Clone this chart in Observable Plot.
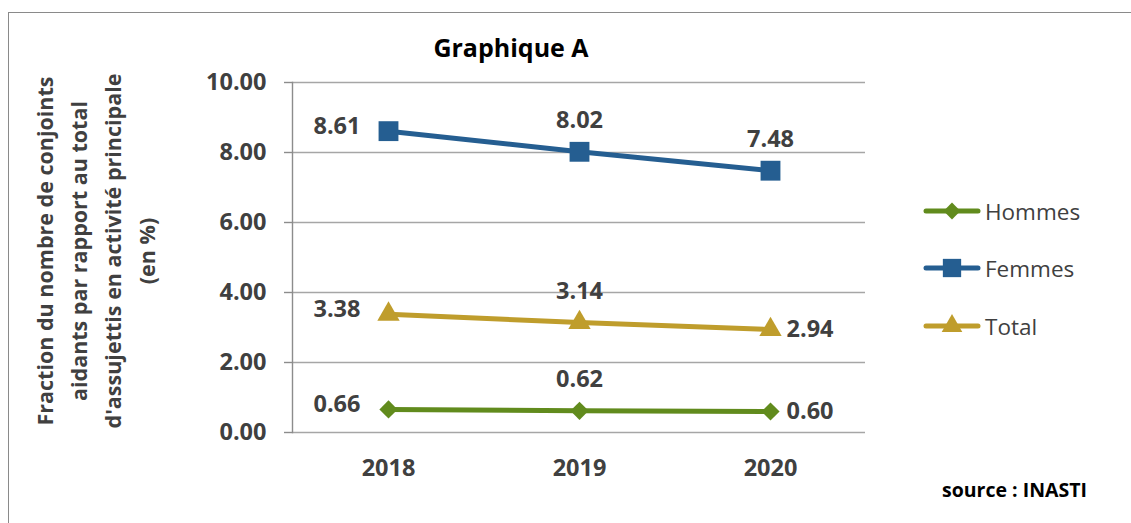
<!DOCTYPE html>
<html><head><meta charset="utf-8">
<script src="https://cdn.jsdelivr.net/npm/d3@7"></script>
<script src="https://cdn.jsdelivr.net/npm/@observablehq/plot@0.6"></script>
<style>
body{margin:0;background:#fff;font-family:"Open Sans",sans-serif;}
#wrap{position:relative;width:1131px;height:523px;overflow:hidden;background:#fff;}
#wrap svg.plot{position:absolute;left:0;top:0;}
#border{position:absolute;left:8px;top:12px;width:1200px;height:600px;border-left:1.5px solid #8a8a8a;border-top:1.5px solid #8a8a8a;box-sizing:border-box;}
#title{position:absolute;left:311px;width:400px;top:30px;text-align:center;font-weight:bold;font-size:25px;color:#000;line-height:34px;}
#ytitle{position:absolute;left:-104px;top:183px;width:400px;height:136px;transform:rotate(-90deg);transform-origin:50% 50%;text-align:center;font-weight:bold;font-size:21.5px;line-height:34px;color:#404040;display:flex;flex-direction:column;justify-content:center;white-space:nowrap;}
.leg{position:absolute;left:922px;height:30px;display:flex;align-items:center;font-size:22.5px;color:#404040;}
.leg svg{margin-right:3px;}
#source{position:absolute;left:942px;top:477px;font-weight:bold;font-size:19.5px;color:#000;line-height:26px;}
</style></head><body><div id="wrap"><div id="border"></div></div>
<script>
const years = ["2018", "2019", "2020"];
const seriesNames = ["Hommes", "Femmes", "Total"];
const hommes = [0.66, 0.62, 0.60];
const femmes = [8.61, 8.02, 7.48];
const total = [3.38, 3.14, 2.94];
const yTicks = [0, 2, 4, 6, 8, 10];
const chartTitle = "Graphique A";
const yTitleLines = ["Fraction du nombre de conjoints", "aidants par rapport au total", "d'assujettis en activité principale", "(en %)"];
const sourceText = "source : INASTI";

const colors = {Hommes: "#618B1D", Femmes: "#255E91", Total: "#BF9D2C"};
const symbols = {Hommes: "diamond2", Femmes: "square", Total: "triangle"};
const radii = {Hommes: 8.2, Femmes: 11.2, Total: 8.3};
// label placement per series, per year
const placement = {
  Hommes: ["left", "top", "right"],
  Femmes: ["left", "top", "top"],
  Total: ["left", "top", "right"]
};

const valuesBySeries = {Hommes: hommes, Femmes: femmes, Total: total};
const rows = [];
for (const s of seriesNames) {
  valuesBySeries[s].forEach((v, i) => rows.push({series: s, year: years[i], value: v, pos: placement[s][i]}));
}

const labelFont = {fontSize: 23.5, fontWeight: "bold", fill: "#404040"};
const fmt = d => d.toFixed(2);

const chart = Plot.plot({
  width: 1131,
  height: 523,
  marginLeft: 292,
  marginRight: 266,
  marginTop: 82,
  marginBottom: 91,
  style: {fontFamily: "'Open Sans', sans-serif", background: "transparent", overflow: "visible"},
  x: {type: "point", domain: years, padding: 0.5},
  y: {domain: [0, 10]},
  color: {domain: seriesNames, range: seriesNames.map(s => colors[s])},
  marks: [
    Plot.gridY(yTicks, {stroke: "#a6a6a6", strokeOpacity: 1, strokeWidth: 1.4}),
    Plot.frame({anchor: "left", stroke: "#8c8c8c", strokeWidth: 1.4}),
    Plot.axisY({ticks: yTicks, tickFormat: fmt, tickSize: 8, tickPadding: 18, stroke: "#8c8c8c", strokeWidth: 1.4, fontSize: 23.5, fontWeight: "bold", fill: "#404040", label: null}),
    Plot.axisX({tickSize: 0, tickPadding: 27, fontSize: 23.5, fontWeight: "bold", fill: "#404040", label: null}),
    Plot.line(rows, {x: "year", y: "value", z: "series", stroke: "series", strokeWidth: 5}),
    ...seriesNames.map(s => Plot.dot(rows.filter(d => d.series === s), {x: "year", y: "value", symbol: () => symbols[s], fill: colors[s], stroke: "none", r: radii[s]})),
    Plot.text(rows.filter(d => d.pos === "left"), {x: "year", y: "value", text: d => fmt(d.value), textAnchor: "end", dx: -28, dy: -5, ...labelFont}),
    Plot.text(rows.filter(d => d.pos === "top"), {x: "year", y: "value", text: d => fmt(d.value), textAnchor: "middle", dy: -31, ...labelFont}),
    Plot.text(rows.filter(d => d.pos === "right"), {x: "year", y: "value", text: d => fmt(d.value), textAnchor: "start", dx: 16, ...labelFont})
  ],
  symbol: {domain: seriesNames, range: seriesNames.map(s => symbols[s])}
});
chart.classList.add("plot");
const wrap = document.getElementById("wrap");
wrap.appendChild(chart);

const t = document.createElement("div");
t.id = "title"; t.textContent = chartTitle; wrap.appendChild(t);

const yt = document.createElement("div");
yt.id = "ytitle";
for (const line of yTitleLines) { const d = document.createElement("div"); d.textContent = line; yt.appendChild(d); }
wrap.appendChild(yt);

const legendY = {Hommes: 211, Femmes: 268, Total: 326};
for (const s of seriesNames) {
  const row = document.createElement("div");
  row.className = "leg";
  row.style.top = (legendY[s] - 15) + "px";
  const sym = d3.symbol().type(s === "Hommes" ? d3.symbolDiamond2 : s === "Femmes" ? d3.symbolSquare : d3.symbolTriangle).size(Math.PI * radii[s] * radii[s] * 0.85)();
  row.innerHTML = `<svg width="60" height="30" viewBox="0 0 60 30"><line x1="4" x2="56" y1="15" y2="15" stroke="${colors[s]}" stroke-width="5" stroke-linecap="round"/><path d="${sym}" transform="translate(30,15)" fill="${colors[s]}"/></svg><span>${s}</span>`;
  wrap.appendChild(row);
}

const src = document.createElement("div");
src.id = "source"; src.textContent = sourceText; wrap.appendChild(src);
</script></body></html>
